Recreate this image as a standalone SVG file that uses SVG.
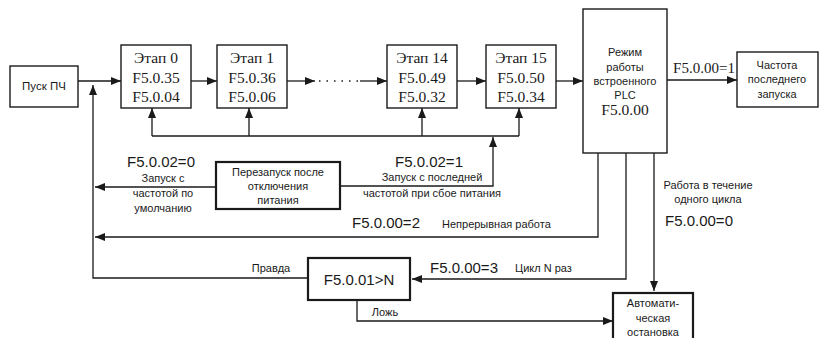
<svg xmlns="http://www.w3.org/2000/svg" width="819" height="338" viewBox="0 0 819 338">
<defs>
<marker id="ah" viewBox="0 0 10 8" refX="10" refY="4" markerWidth="10" markerHeight="8" markerUnits="userSpaceOnUse" orient="auto">
<path d="M0,0 L10,4 L0,8 Z" fill="#1a1a1a"/>
</marker>
<style>
.box{fill:#fff;stroke:#1a1a1a;stroke-width:1.4}
.tbox{fill:#fff;stroke:#1a1a1a;stroke-width:2.2}
.ln{fill:none;stroke:#1a1a1a;stroke-width:1.3}
.ser{font-family:"Liberation Serif","Times New Roman",serif;font-size:15.5px;fill:#1a1a1a;text-anchor:middle}
.san{font-family:"Liberation Sans",Arial,sans-serif;font-size:11px;fill:#1a1a1a;text-anchor:middle}
.sanS{font-family:"Liberation Sans",Arial,sans-serif;font-size:11px;fill:#1a1a1a;text-anchor:start}
.sanL{font-family:"Liberation Sans",Arial,sans-serif;font-size:15px;fill:#1a1a1a}
</style>
</defs>
<rect width="819" height="338" fill="#fff"/>
<g id="connectors">
<line class="ln" x1="78" y1="81" x2="121" y2="81" marker-end="url(#ah)"/>
<line class="ln" x1="191" y1="81" x2="217" y2="81" marker-end="url(#ah)"/>
<line class="ln" x1="287" y1="81" x2="315" y2="81" marker-end="url(#ah)"/>
<line class="ln" x1="319" y1="81" x2="358" y2="81" stroke-dasharray="1.5,6"/>
<line class="ln" x1="360" y1="81" x2="387" y2="81" marker-end="url(#ah)"/>
<line class="ln" x1="457" y1="81" x2="486" y2="81" marker-end="url(#ah)"/>
<line class="ln" x1="556" y1="81" x2="583" y2="81" marker-end="url(#ah)"/>
<line class="ln" x1="667" y1="80" x2="737" y2="80" marker-end="url(#ah)"/>
<path class="ln" d="M152,136 L519,136"/>
<line class="ln" x1="152" y1="136" x2="152" y2="108" marker-end="url(#ah)"/>
<line class="ln" x1="249" y1="136" x2="249" y2="108" marker-end="url(#ah)"/>
<line class="ln" x1="422" y1="136" x2="422" y2="108" marker-end="url(#ah)"/>
<line class="ln" x1="519" y1="136" x2="519" y2="108" marker-end="url(#ah)"/>
<path class="ln" d="M340,186 L493,186 L493,137" marker-end="url(#ah)"/>
<line class="ln" x1="216" y1="187" x2="95" y2="187" marker-end="url(#ah)"/>
<path class="ln" d="M598,153 L598,237 L95,237" marker-end="url(#ah)"/>
<path class="ln" d="M626,153 L626,279 L412,279" marker-end="url(#ah)"/>
<line class="ln" x1="654" y1="153" x2="654" y2="291" marker-end="url(#ah)"/>
<path class="ln" d="M308,278 L93,278 L93,85" marker-end="url(#ah)"/>
<path class="ln" d="M357,300 L357,321 L613,321" marker-end="url(#ah)"/>
</g>
<g id="start">
<rect class="box" x="10" y="66" width="68" height="41"/>
<text class="san" x="44" y="90" style="font-size:11.5px">Пуск ПЧ</text>
</g>
<g id="stage0">
<rect class="box" x="121" y="45" width="70" height="63"/>
<text class="ser" x="156" y="63">Этап 0</text>
<text class="ser" x="156" y="83">F5.0.35</text>
<text class="ser" x="156" y="102">F5.0.04</text>
</g>
<g id="stage1">
<rect class="box" x="217" y="45" width="70" height="63"/>
<text class="ser" x="252" y="63">Этап 1</text>
<text class="ser" x="252" y="83">F5.0.36</text>
<text class="ser" x="252" y="102">F5.0.06</text>
</g>
<g id="stage14">
<rect class="box" x="387" y="45" width="70" height="63"/>
<text class="ser" x="422" y="63">Этап 14</text>
<text class="ser" x="422" y="83">F5.0.49</text>
<text class="ser" x="422" y="102">F5.0.32</text>
</g>
<g id="stage15">
<rect class="box" x="486" y="45" width="70" height="63"/>
<text class="ser" x="521" y="63">Этап 15</text>
<text class="ser" x="521" y="83">F5.0.50</text>
<text class="ser" x="521" y="102">F5.0.34</text>
</g>
<g id="plc">
<rect class="box" x="583" y="9" width="84" height="144"/>
<text class="san" x="625" y="56">Режим</text>
<text class="san" x="625" y="71">работы</text>
<text class="san" x="625" y="85">встроенного</text>
<text class="san" x="625" y="99">PLC</text>
<text class="ser" x="625" y="115">F5.0.00</text>
</g>
<g id="lastfreq">
<rect class="box" x="737" y="52" width="81" height="55"/>
<text class="san" x="777" y="69">Частота</text>
<text class="san" x="777" y="83">последнего</text>
<text class="san" x="777" y="98">запуска</text>
</g>
<g id="restart">
<rect class="tbox" x="216" y="162" width="124" height="47"/>
<text class="san" x="278" y="176">Перезапуск после</text>
<text class="san" x="278" y="190">отключения</text>
<text class="san" x="278" y="204">питания</text>
</g>
<g id="cond">
<rect class="tbox" x="308" y="258" width="102" height="42"/>
<text class="sanL" x="359" y="285" text-anchor="middle">F5.0.01&gt;N</text>
</g>
<g id="autostop">
<rect class="tbox" x="613" y="293" width="80" height="50"/>
<text class="san" x="653" y="307">Автомати-</text>
<text class="san" x="653" y="322">ческая</text>
<text class="san" x="653" y="336">остановка</text>
</g>
<g id="labels">
<text class="ser" x="704" y="73" style="font-size:15px">F5.0.00=1</text>
<text class="sanL" x="127" y="167">F5.0.02=0</text>
<text class="san" x="163" y="182">Запуск с</text>
<text class="san" x="163" y="197">частотой по</text>
<text class="san" x="163" y="212">умолчанию</text>
<text class="sanL" x="395" y="167">F5.0.02=1</text>
<text class="san" x="432" y="181">Запуск с последней</text>
<text class="san" x="432" y="197">частотой при сбое питания</text>
<text class="sanL" x="352" y="228">F5.0.00=2</text>
<text class="sanS" x="442" y="228">Непрерывная работа</text>
<text class="san" x="708" y="189">Работа в течение</text>
<text class="san" x="708" y="203">одного цикла</text>
<text class="sanL" x="665" y="226">F5.0.00=0</text>
<text class="sanL" x="430" y="273">F5.0.00=3</text>
<text class="sanS" x="515" y="272">Цикл N раз</text>
<text class="san" x="271" y="272">Правда</text>
<text class="san" x="385" y="316">Ложь</text>
</g>
</svg>
